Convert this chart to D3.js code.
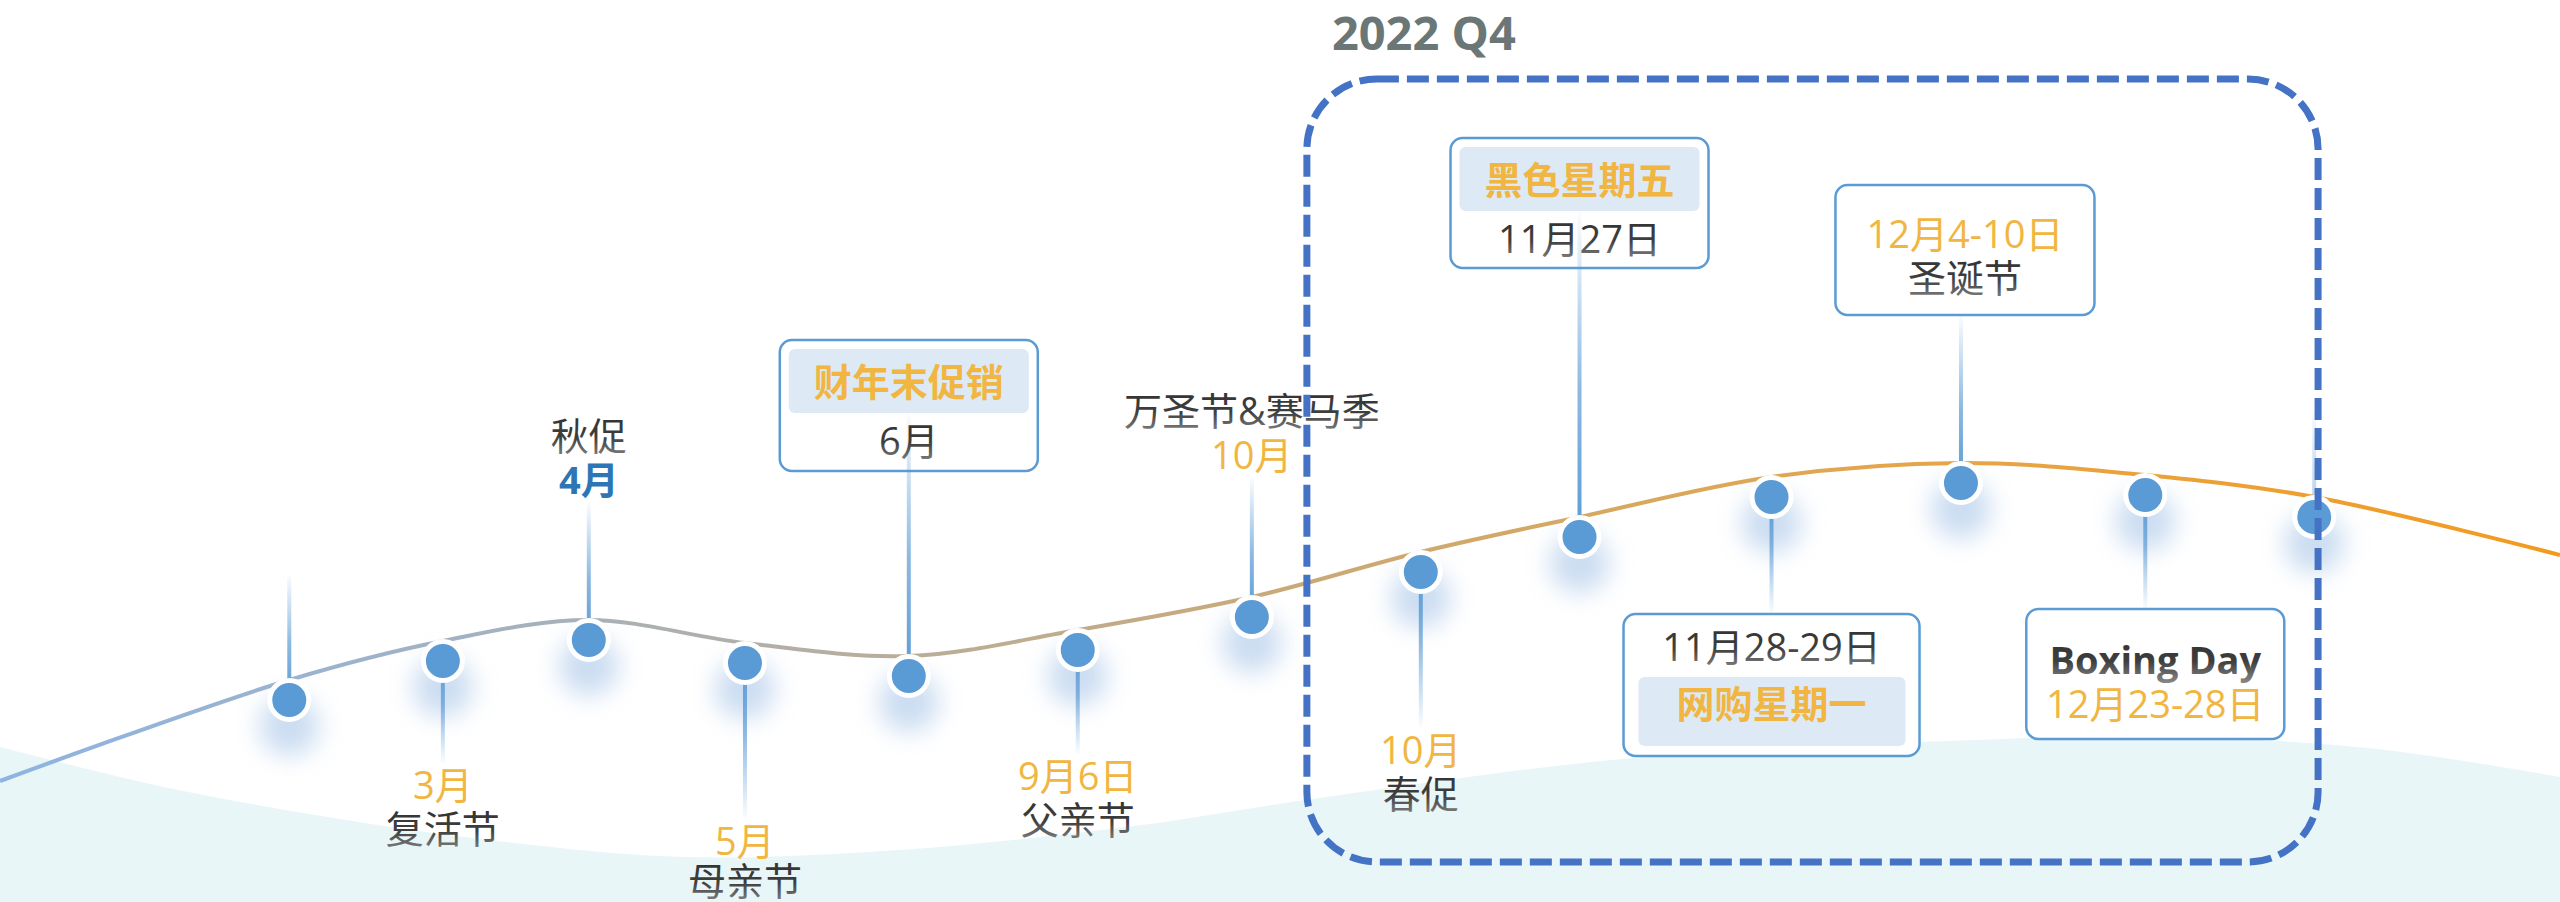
<!DOCTYPE html>
<html>
<head>
<meta charset="utf-8">
<script src="https://cdn.jsdelivr.net/npm/d3@7"></script>
<style>
html, body { margin: 0; padding: 0; background: #fff; overflow: hidden; }
svg { display: block; }
text { font-family: "Open Sans", "Noto Sans CJK SC", sans-serif; }
</style>
</head>
<body>
<svg id="chart"></svg>
<script>
// ---- data ----
// position of every milestone on the timeline (0-100)
var stops = [11.3, 17.3, 23.0, 29.1, 35.5, 42.1, 48.9, 55.5, 61.7, 69.2, 76.6, 83.8, 90.4];
// height of the trend line at every milestone (0-100)
var levels = [30, 39.75, 45, 39.25, 36, 42.5, 50.75, 62, 70.75, 80.75, 84.25, 81.25, 75.75];
var dateLabels = ["", "3月", "4月", "5月", "6月", "9月6日", "10月", "10月", "11月27日", "11月28-29日", "12月4-10日", "12月23-28日", ""];
var eventNames = ["", "复活节", "秋促", "母亲节", "财年末促销", "父亲节", "万圣节&赛马季", "春促", "黑色星期五", "网购星期一", "圣诞节", "Boxing Day", ""];
var sides = ["up", "down", "up", "down", "up", "down", "up", "down", "up", "down", "up", "down", "up"];
// ends of the trend line
var lineStart = [0, 4.75];
var lineEnd = [100, 61.25];
// background wave
var waveT = [0, 6.4, 12.8, 19.1, 26.8, 35.1, 44.6, 51, 63.8, 79.1, 83, 92.5, 100];
var waveV = [13.25, 3.25, -4.25, -10, -14.25, -12.5, -6.25, 0, 10.5, 15.5, 16.25, 13, 5.75];
// highlighted quarter
var quarterTitle = "2022 Q4";
var quarterRange = [51.05, 90.55];

// ---- layout ----
var W = 2560, H = 902;
var FS = 38;          // label font size
var LINE = 44;        // line spacing
var HANG = 20;        // dots hang below the line
// distance from dot to nearest label line / box edge
var reach = [125, 124, 160, 178, 205, 126, 162, 178, 269, 117, 168, 114, 110];
// kind of label: none, text, boxes
var kinds = ["none", "text", "text", "text", "headTop", "text", "text", "text", "headTop", "headBottom", "plainBox", "plainBox", "none"];
var boxW = [0, 0, 0, 0, 258, 0, 0, 0, 258, 296, 259, 258, 0];
var boxH = [0, 0, 0, 0, 131, 0, 0, 0, 130, 142, 130, 130, 0];
var boxDx = [0, 0, 0, 0, 0, 0, 0, 0, 0, 0, 4, 10, 0];

var C_ORANGE = "#f0b641", C_BLUE = "#2e75b6", C_DOT = "#5b9bd5";

var svg = d3.select("#chart").attr("width", W).attr("height", H);
var defs = svg.append("defs");

var x = d3.scaleLinear().domain([0, 100]).range([0, W]);
var y = d3.scaleLinear().domain([0, 100]).range([800, 400]);

//渐变：趋势线
var tg = defs.append("linearGradient").attr("id", "trend")
    .attr("gradientUnits", "userSpaceOnUse")
    .attr("x1", 0).attr("y1", 0).attr("x2", W).attr("y2", 0);
[[0, "#8db4e2"], [0.12, "#9bb3cf"], [0.25, "#abb0b2"], [0.36, "#b9ae98"], [0.5, "#c9a978"],
 [0.62, "#d6a862"], [0.76, "#e6a548"], [1, "#f39a1e"]].forEach(function (s) {
    tg.append("stop").attr("offset", s[0]).attr("stop-color", s[1]);
});

//渐变：竖线
function stemGrad(id, up) {
    var g = defs.append("linearGradient").attr("id", id)
        .attr("x1", 0).attr("x2", 0)
        .attr("y1", up ? 1 : 0).attr("y2", up ? 0 : 1);
    g.append("stop").attr("offset", 0).attr("stop-color", C_DOT).attr("stop-opacity", 1);
    g.append("stop").attr("offset", 0.45).attr("stop-color", C_DOT).attr("stop-opacity", 0.7);
    g.append("stop").attr("offset", 1).attr("stop-color", C_DOT).attr("stop-opacity", 0.02);
}
stemGrad("stemUp", true);
stemGrad("stemDown", false);

//渐变：深色文字
var dg = defs.append("linearGradient").attr("id", "darkText")
    .attr("x1", 0).attr("x2", 0).attr("y1", 0).attr("y2", 1);
dg.append("stop").attr("offset", 0).attr("stop-color", "#2f2f2f");
dg.append("stop").attr("offset", 0.55).attr("stop-color", "#3e3e3e");
dg.append("stop").attr("offset", 1).attr("stop-color", "#8e8e8e");

defs.append("filter").attr("id", "glow")
    .attr("x", "-100%").attr("y", "-100%").attr("width", "300%").attr("height", "300%")
    .append("feGaussianBlur").attr("stdDeviation", 12);

// background wave
var wave = waveT.map(function (t, i) { return [t, waveV[i]]; });
svg.append("path")
    .datum(wave)
    .attr("fill", "#e8f6f8")
    .attr("d", d3.area()
        .x(function (d) { return x(d[0]); })
        .y0(H)
        .y1(function (d) { return y(d[1]); })
        .curve(d3.curveCatmullRom.alpha(0.5)));

var events = stops.map(function (t, i) {
    return { i: i, t: t, v: levels[i], date: dateLabels[i], name: eventNames[i], side: sides[i] };
});
events.forEach(function (d) {
    d.cx = x(d.t);
    d.cy = y(d.v) + HANG;
});

// glow under the dots
svg.append("g").selectAll("circle").data(events).enter().append("circle")
    .attr("cx", function (d) { return d.cx; })
    .attr("cy", function (d) { return d.cy + 26; })
    .attr("r", 30)
    .attr("fill", "#a9c6e8")
    .attr("opacity", 0.6)
    .attr("filter", "url(#glow)");

// trend line
var linePts = [lineStart].concat(events.map(function (d) { return [d.t, d.v]; })).concat([lineEnd]);
svg.append("path")
    .datum(linePts)
    .attr("fill", "none")
    .attr("stroke", "url(#trend)")
    .attr("stroke-width", 4)
    .attr("d", d3.line()
        .x(function (d) { return x(d[0]); })
        .y(function (d) { return y(d[1]); })
        .curve(d3.curveCatmullRom.alpha(0.5)));

// boxes
var boxes = events.filter(function (d) { return kinds[d.i] !== "none" && kinds[d.i] !== "text"; });
boxes.forEach(function (d) {
    var w = boxW[d.i], h = boxH[d.i];
    d.bx = d.cx + boxDx[d.i] - w / 2;
    d.by = d.side === "up" ? d.cy - reach[d.i] - h : d.cy + reach[d.i];
    d.tx = d.cx + boxDx[d.i];
});
var gBox = svg.append("g");
gBox.selectAll("rect.box").data(boxes).enter().append("rect")
    .attr("class", "box")
    .attr("x", function (d) { return d.bx; })
    .attr("y", function (d) { return d.by; })
    .attr("width", function (d) { return boxW[d.i]; })
    .attr("height", function (d) { return boxH[d.i]; })
    .attr("rx", 12)
    .attr("fill", "#fff")
    .attr("stroke", C_DOT)
    .attr("stroke-width", 2.5);

var heads = boxes.filter(function (d) { return kinds[d.i] === "headTop" || kinds[d.i] === "headBottom"; });
heads.forEach(function (d) {
    if (kinds[d.i] === "headTop") {
        d.hx = d.bx + 9; d.hy = d.by + 9; d.hw = boxW[d.i] - 18; d.hh = 64;
    } else {
        d.hx = d.bx + 15; d.hy = d.by + 63; d.hw = boxW[d.i] - 29; d.hh = 69;
    }
});
gBox.selectAll("rect.head").data(heads).enter().append("rect")
    .attr("class", "head")
    .attr("x", function (d) { return d.hx; })
    .attr("y", function (d) { return d.hy; })
    .attr("width", function (d) { return d.hw; })
    .attr("height", function (d) { return d.hh; })
    .attr("rx", 6)
    .attr("fill", "#dde9f5");

// stems
events.forEach(function (d) {
    var k = kinds[d.i], end;
    if (k === "none" || k === "text") {
        end = d.side === "up" ? d.cy - (reach[d.i] - (k === "none" ? 0 : 22)) : d.cy + reach[d.i] - 22;
    } else if (k === "headTop") {
        end = d.hy + d.hh;
    } else if (k === "headBottom" || d.side === "down") {
        end = d.by;
    } else {
        end = d.by + boxH[d.i];
    }
    d.y0 = Math.min(d.cy, end);
    d.y1 = Math.max(d.cy, end);
});
svg.append("g").selectAll("rect").data(events).enter().append("rect")
    .attr("x", function (d) { return d.cx - 2; })
    .attr("y", function (d) { return d.y0; })
    .attr("width", 4)
    .attr("height", function (d) { return d.y1 - d.y0; })
    .attr("fill", function (d) { return d.side === "up" ? "url(#stemUp)" : "url(#stemDown)"; })
    .attr("opacity", function (d) { return d.i === 12 ? 0.45 : 1; });

// dots
svg.append("g").selectAll("circle").data(events).enter().append("circle")
    .attr("cx", function (d) { return d.cx; })
    .attr("cy", function (d) { return d.cy; })
    .attr("r", 19.5)
    .attr("fill", C_DOT)
    .attr("stroke", "#fff")
    .attr("stroke-width", 5);

// label lines
var lines = [];
function styleOf(kind) {
    if (kind === "orange") return { fill: C_ORANGE, weight: 400 };
    if (kind === "blue") return { fill: C_BLUE, weight: 700 };
    if (kind === "head") return { fill: C_ORANGE, weight: 700 };
    if (kind === "darkBold") return { fill: "url(#darkText)", weight: 700 };
    return { fill: "url(#darkText)", weight: 400 };
}
events.forEach(function (d) {
    var k = kinds[d.i];
    if (k === "none") return;
    if (k === "text") {
        var dir = d.side === "up" ? -1 : 1;
        var near = d.cy + dir * reach[d.i];
        var gap = d.i === 3 ? LINE - 4 : LINE;   // keep 母亲节 inside the page
        lines.push({ x: d.cx, y: near, text: d.date, s: styleOf(d.i === 2 ? "blue" : "orange") });
        lines.push({ x: d.cx, y: near + dir * gap, text: d.name, s: styleOf("dark") });
    } else if (k === "headTop") {
        lines.push({ x: d.tx, y: d.by + 42, text: d.name, s: styleOf("head") });
        lines.push({ x: d.tx, y: d.by + 101, text: d.date, s: styleOf("dark") });
    } else if (k === "headBottom") {
        lines.push({ x: d.tx, y: d.by + 33, text: d.date, s: styleOf("dark") });
        lines.push({ x: d.tx, y: d.by + 90, text: d.name, s: styleOf("head") });
    } else if (d.side === "up") {
        lines.push({ x: d.tx, y: d.by + 49, text: d.date, s: styleOf("orange") });
        lines.push({ x: d.tx, y: d.by + 93, text: d.name, s: styleOf("dark") });
    } else {
        lines.push({ x: d.tx, y: d.by + 51, text: d.name, s: styleOf("darkBold") });
        lines.push({ x: d.tx, y: d.by + 95, text: d.date, s: styleOf("orange") });
    }
});
svg.append("g").selectAll("text").data(lines).enter().append("text")
    .attr("x", function (d) { return d.x; })
    .attr("y", function (d) { return d.y; })
    .attr("dy", "0.36em")
    .attr("text-anchor", "middle")
    .attr("font-size", FS)
    .attr("font-weight", function (d) { return d.s.weight; })
    .attr("fill", function (d) { return d.s.fill; })
    .text(function (d) { return d.text; });

// quarter frame
var qx0 = x(quarterRange[0]), qx1 = x(quarterRange[1]);
svg.append("rect")
    .attr("x", qx0)
    .attr("y", 79)
    .attr("width", qx1 - qx0)
    .attr("height", 783)
    .attr("rx", 70)
    .attr("fill", "none")
    .attr("stroke", "#4472c4")
    .attr("stroke-width", 7)
    .attr("stroke-dasharray", "22 8");

svg.append("text")
    .attr("x", qx0 + 25)
    .attr("y", 50)
    .attr("font-size", 47)
    .attr("font-weight", 700)
    .attr("fill", "#6b7676")
    .text(quarterTitle);
</script>
</body>
</html>
